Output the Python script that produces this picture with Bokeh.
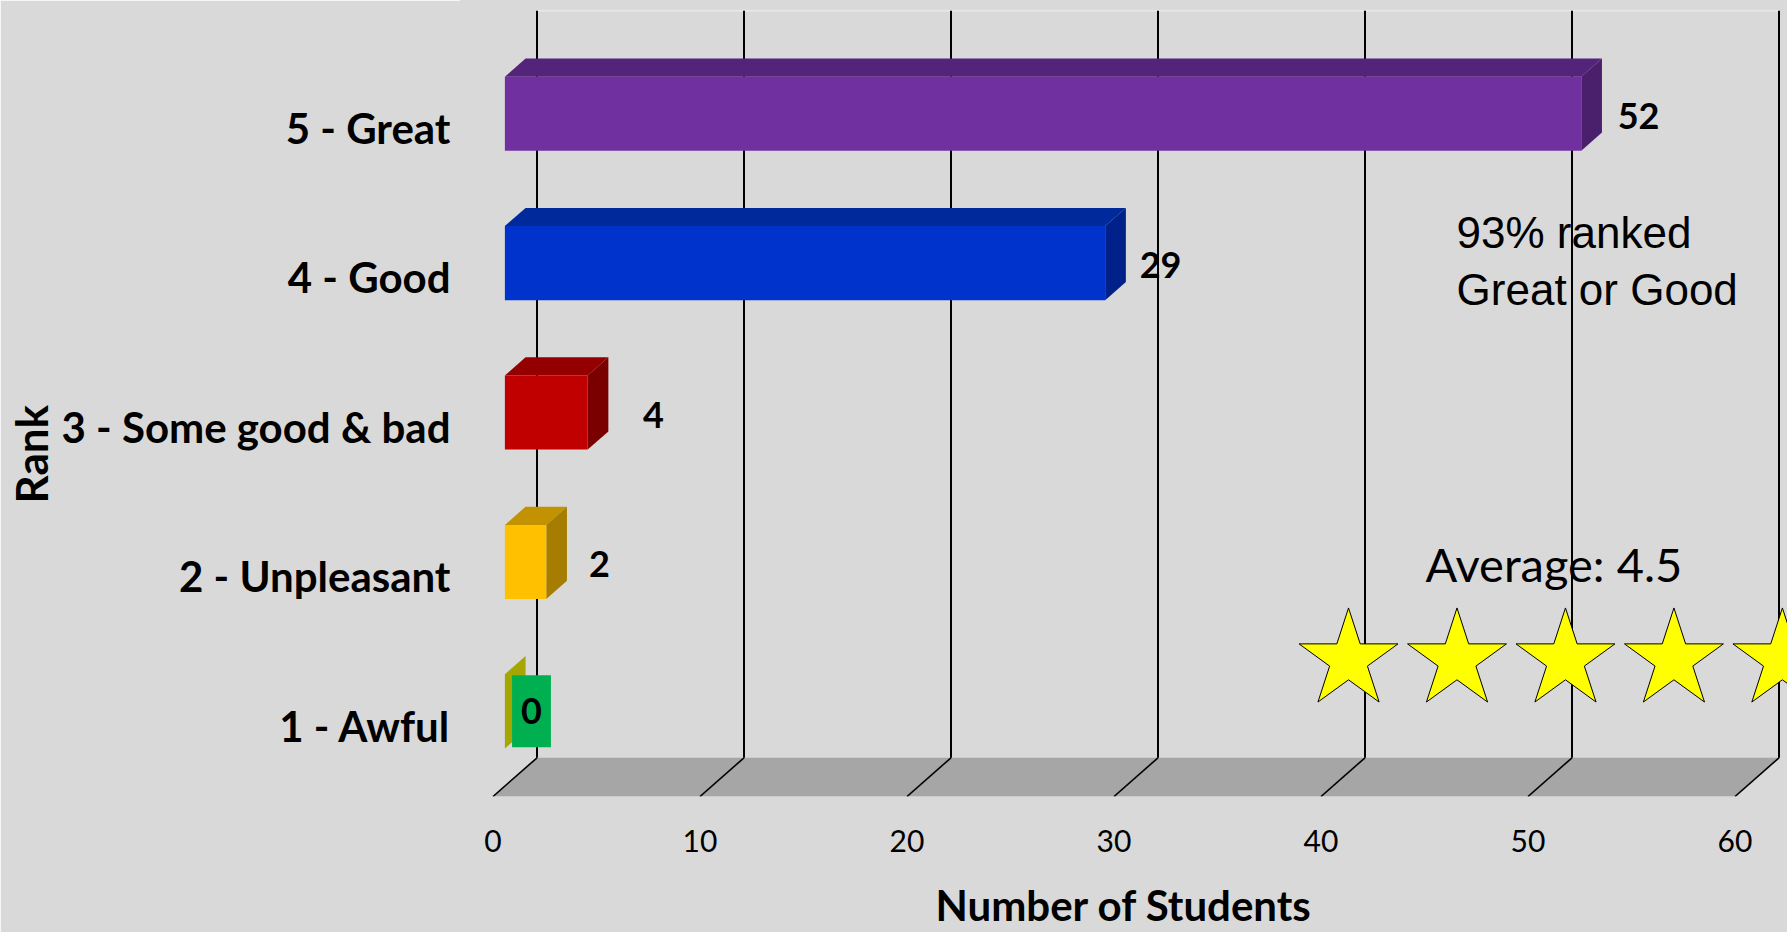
import math
from bokeh.plotting import figure
from bokeh.models import Range1d, FixedTicker, ColumnDataSource, Label, Title
from bokeh.core.properties import value
from bokeh.embed import file_html
from bokeh.resources import INLINE

# ---------------- data ----------------
categories = ["1 - Awful", "2 - Unpleasant", "3 - Some good & bad", "4 - Good", "5 - Great"]
counts = [0, 2, 4, 29, 52]
x_ticks = [0, 10, 20, 30, 40, 50, 60]
x_title = "Number of Students"
y_title = "Rank"
average = 4.5

# ---------------- styles ----------------
front_colors = ["#00B050", "#FFC000", "#C00000", "#0033CC", "#7030A0"]
top_colors = ["#8C8C00", "#C29200", "#940000", "#002A9C", "#54237A"]
side_colors = ["#A6A600", "#A67D00", "#7A0000", "#00208A", "#4A1F6C"]
label_dx = [1.86, 3.14, 3.75, 3.25, 3.34]   # value-label offsets (students)
BG = "#D9D9D9"
FLOOR = "#A6A6A6"

# ---------------- layout ----------------
W, H = 1787, 932
frame_left = 460
bottom_pad = 136
frame_w = W - frame_left
frame_h = H - bottom_pad
ux = 20.7      # px per student
uy = 149.4     # px per category band
x0_px = 32.5   # frame px of value 0 (front plane)
DX = 44 / ux   # depth shift (x)
DY = 38.7 / uy # depth shift (y)

p = figure(width=W, height=H,
           x_range=Range1d(-x0_px / ux, (frame_w - x0_px) / ux),
           y_range=Range1d(0, frame_h / uy),
           output_backend="svg", toolbar_location=None,
           min_border_left=frame_left, min_border_right=0,
           min_border_top=0, min_border_bottom=bottom_pad,
           background_fill_color=BG, border_fill_color=BG,
           outline_line_color=BG, outline_line_width=2)
p.grid.visible = False

n = len(categories)
ycent = [i + 0.5 for i in range(n)]
xmax = max(x_ticks)
ntop = float(n)

# axes
p.xaxis.ticker = FixedTicker(ticks=x_ticks)
p.xaxis.axis_line_color = None
p.xaxis.major_tick_line_color = None
p.xaxis.minor_tick_line_color = None
p.xaxis.major_tick_out = 0
p.xaxis.minor_tick_out = 0
p.xaxis.major_label_standoff = 33
p.xaxis.major_label_text_font = "Lato"
p.xaxis.major_label_text_font_size = "30px"
p.xaxis.major_label_text_color = "black"
p.xaxis.axis_label = x_title
p.xaxis.axis_label_standoff = 25
p.xaxis.axis_label_text_font = "Lato"
p.xaxis.axis_label_text_font_style = "bold"
p.xaxis.axis_label_text_font_size = "42px"
p.xaxis.axis_label_text_color = "black"

yticks = [y - 0.025 for y in ycent]
p.yaxis.ticker = FixedTicker(ticks=yticks)
p.yaxis.major_label_overrides = {y: c for y, c in zip(yticks, categories)}
p.yaxis.axis_line_color = None
p.yaxis.major_tick_line_color = None
p.yaxis.minor_tick_line_color = None
p.yaxis.major_tick_out = 0
p.yaxis.minor_tick_out = 0
p.yaxis.major_label_standoff = 10
p.yaxis.major_label_text_font = "Lato"
p.yaxis.major_label_text_font_style = "bold"
p.yaxis.major_label_text_font_size = "42px"
p.yaxis.major_label_text_color = "black"

p.add_layout(Title(text=y_title, align="left", offset=293, standoff=4,
                   text_font="Lato", text_font_style="bold", text_font_size="44px",
                   text_color="black"), "left")

# back wall top edge
p.line([DX, xmax + DX], [ntop + DY, ntop + DY], line_color="#E6E6E6", line_width=2)

# floor
p.patch([0, xmax, xmax + DX, DX], [0, 0, DY, DY], fill_color=FLOOR, line_color=None)

# gridlines: floor diagonals + back wall verticals
p.segment(x0=x_ticks, y0=[0] * len(x_ticks), x1=[t + DX for t in x_ticks], y1=[DY] * len(x_ticks),
          line_color="black", line_width=1.6)
p.segment(x0=[t + DX for t in x_ticks], y0=[DY] * len(x_ticks),
          x1=[t + DX for t in x_ticks], y1=[ntop + DY] * len(x_ticks),
          line_color="black", line_width=2)

# 3D bars
f1, f2, hh = 0.27, 0.74, 0.248
top_src = ColumnDataSource(dict(
    xs=[[f1 * DX, v + f1 * DX, v + f2 * DX, f2 * DX] for v in counts],
    ys=[[y + hh + f1 * DY, y + hh + f1 * DY, y + hh + f2 * DY, y + hh + f2 * DY] for y in ycent],
    color=top_colors))
side_src = ColumnDataSource(dict(
    xs=[[v + f1 * DX, v + f2 * DX, v + f2 * DX, v + f1 * DX] for v in counts],
    ys=[[y - hh + f1 * DY, y - hh + f2 * DY, y + hh + f2 * DY, y + hh + f1 * DY] for y in ycent],
    color=side_colors))
p.patches("xs", "ys", source=top_src, fill_color="color", line_color=None)
p.patches("xs", "ys", source=side_src, fill_color="color", line_color=None)
nz = [i for i, v in enumerate(counts) if v > 0]
front_nz = ColumnDataSource(dict(
    left=[f1 * DX for i in nz], right=[counts[i] + f1 * DX for i in nz],
    bottom=[ycent[i] - hh + f1 * DY for i in nz], top=[ycent[i] + hh + f1 * DY for i in nz],
    color=[front_colors[i] for i in nz]))
p.quad(left="left", right="right", bottom="bottom", top="top", source=front_nz,
       fill_color="color", line_color=None)

# value labels
lab_nz = ColumnDataSource(dict(
    x=[counts[i] + label_dx[i] for i in nz],
    y=[ycent[i] + f1 * DY - 0.015 for i in nz],
    t=[str(counts[i]) for i in nz]))
p.text(x="x", y="y", text="t", source=lab_nz, text_font=value("Lato"), text_font_style="bold",
       text_font_size="36px", text_align="center", text_baseline="middle", text_color="black")
zi = [i for i, v in enumerate(counts) if v == 0]
lab_z = ColumnDataSource(dict(
    x=[counts[i] + label_dx[i] for i in zi],
    y=[ycent[i] + f1 * DY for i in zi],
    t=[str(counts[i]) for i in zi],
    bg=[front_colors[i] for i in zi]))
p.text(x="x", y="y", text="t", source=lab_z, text_font=value("Lato"), text_font_style="bold",
       text_font_size="36px", text_align="center", text_baseline="middle", text_color="black",
       background_fill_color="bg", padding=dict(left=9, right=9, top=23, bottom=23))

# annotation texts
total = sum(counts)
pct = round(100 * (counts[-1] + counts[-2]) / total)
ann = ColumnDataSource(dict(
    x=[46.55, 46.55],
    y=[3.775, 3.393],
    t=[f"{pct}% ranked", "Great or Good"]))
p.text(x="x", y="y", text="t", source=ann, text_font=value("Liberation Sans"),
       text_font_size="44px", text_align="left", text_baseline="alphabetic", text_color="black")
p.add_layout(Label(x=45.05, y=1.553, text=f"Average: {average}", text_font="Lato",
                   text_font_size="47px", text_align="left", text_baseline="alphabetic",
                   text_color="black"))

# stars
nstars = math.ceil(average)
R = 52.0
sx0, sstep, sy = 41.33, 5.24, 0.914
star_xs, star_ys = [], []
for k in range(nstars):
    cx = sx0 + k * sstep
    xs_, ys_ = [], []
    for j in range(10):
        a = math.pi / 2 + j * math.pi / 5
        r = R if j % 2 == 0 else R * 0.382
        xs_.append(cx + r * math.cos(a) / ux)
        ys_.append(sy + r * math.sin(a) / uy)
    star_xs.append(xs_)
    star_ys.append(ys_)
p.patches(star_xs, star_ys, fill_color="#FFFF00", line_color="black", line_width=1)

open("out.html", "w").write(file_html(p, INLINE))
